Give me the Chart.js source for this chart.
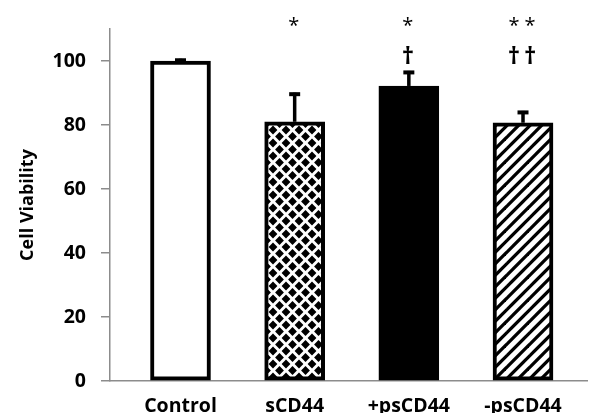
<!DOCTYPE html>
<html>
<head>
<meta charset="utf-8">
<script src="https://cdn.jsdelivr.net/npm/chart.js@4.4.1/dist/chart.umd.min.js"></script>
<style>
  html, body { margin: 0; padding: 0; background: #fff; }
  #c { display: block; }
</style>
</head>
<body>
<canvas id="c" width="589" height="413"></canvas>
<script>
// ---- data ----
const categories = ['Control', 'sCD44', '+psCD44', '-psCD44'];
const viability = [100, 81, 92.2, 80.7];
const errorUpper = [0.7, 9.1, 4.7, 3.7];
const starLabels = ['', '*', '*', '* *'];
const daggerLabels = ['', '', '\u2020', '\u2020\u2009\u2020'];
const yTicks = [0, 20, 40, 60, 80, 100];

// ---- patterns ----
function diamondPattern(ctx) {
  const s = 13;
  const c = document.createElement('canvas');
  c.width = s; c.height = s;
  const g = c.getContext('2d');
  g.fillStyle = '#fff'; g.fillRect(0, 0, s, s);
  g.fillStyle = '#000';
  const r = 4.4;
  const centers = [[s / 2, s / 2], [0, 0], [s, 0], [0, s], [s, s]];
  centers.forEach(([cx, cy]) => {
    g.beginPath();
    g.moveTo(cx, cy - r); g.lineTo(cx + r, cy); g.lineTo(cx, cy + r); g.lineTo(cx - r, cy);
    g.closePath(); g.fill();
  });
  return ctx.createPattern(c, 'repeat');
}
function hatchPattern(ctx) {
  const s = 11.5;
  const n = 23;
  const c = document.createElement('canvas');
  c.width = n; c.height = n;
  const g = c.getContext('2d');
  g.fillStyle = '#fff'; g.fillRect(0, 0, n, n);
  g.strokeStyle = '#000'; g.lineWidth = 3.3;
  for (let k = -2; k <= 6; k++) {
    const off = k * s;
    g.beginPath();
    g.moveTo(off - 30, n + 30); g.lineTo(off + n + 30, -30);
    g.stroke();
  }
  return ctx.createPattern(c, 'repeat');
}

const canvas = document.getElementById('c');
const ctx0 = canvas.getContext('2d');
const fills = ['#ffffff', diamondPattern(ctx0), '#000000', hatchPattern(ctx0)];

const gray = '#8c8c8c';
const fontFam = "'Open Sans', 'DejaVu Sans', sans-serif";

const errorBars = {
  id: 'errorBars',
  afterDatasetsDraw(chart) {
    const { ctx, scales: { x, y } } = chart;
    ctx.save();
    ctx.fillStyle = '#000';
    viability.forEach((v, i) => {
      const px = x.getPixelForValue(i);
      const yb = y.getPixelForValue(v);
      const yt = y.getPixelForValue(v + errorUpper[i]);
      ctx.fillRect(px - 1.75, yt, 3.5, yb - yt);
      ctx.fillRect(px - 5.5, yt - 0.5, 11, 4);
    });
    ctx.restore();
  }
};

const marks = {
  id: 'marks',
  afterDraw(chart) {
    const { ctx, scales: { x, y } } = chart;
    ctx.save();
    ctx.fillStyle = '#000';
    ctx.textAlign = 'center';
    ctx.textBaseline = 'middle';
    ctx.font = "20px " + fontFam;
    starLabels.forEach((t, i) => {
      if (t) ctx.fillText(t, x.getPixelForValue(i) - 1, y.getPixelForValue(110.8));
    });
    ctx.font = "bold 24px " + fontFam;
    daggerLabels.forEach((t, i) => {
      if (t) ctx.fillText(t, x.getPixelForValue(i) - 1, y.getPixelForValue(101.2));
    });
    ctx.restore();
  }
};

new Chart(canvas, {
  type: 'bar',
  data: {
    datasets: [{
      data: categories.map((c, i) => ({ x: i, y: viability[i] })),
      backgroundColor: fills,
      borderColor: '#000',
      borderWidth: 4,
      borderSkipped: false,
      barThickness: 60
    }]
  },
  options: {
    responsive: false,
    devicePixelRatio: 1,
    animation: false,
    layout: { padding: { top: 29, right: 2, left: 0, bottom: 0 } },
    plugins: { legend: { display: false }, tooltip: { enabled: false } },
    scales: {
      x: {
        type: 'linear',
        min: -0.6175,
        max: 3.5605,
        offset: false,
        grid: { display: false },
        border: { display: true, color: gray, width: 1.5 },
        afterBuildTicks: s => { s.ticks = categories.map((_, i) => ({ value: i })); },
        afterFit: s => { s.height = 32; },
        ticks: {
          autoSkip: false,
          maxRotation: 0,
          padding: 6,
          color: '#000',
          font: { family: fontFam, weight: 'bold', size: 19.5 },
          callback: v => categories[v]
        }
      },
      y: {
        min: 0,
        max: 110,
        afterBuildTicks: s => { s.ticks = yTicks.map(v => ({ value: v })); },
        afterFit: s => { s.width = 110; },
        grid: { drawOnChartArea: false, color: gray, lineWidth: 1.5, tickLength: 9 },
        border: { display: true, color: gray, width: 1.5 },
        ticks: {
          padding: 15,
          color: '#000',
          font: { family: fontFam, weight: 'bold', size: 19.5 }
        },
        title: {
          display: true,
          text: 'Cell Viability',
          color: '#000',
          padding: { top: 17, bottom: 0 },
          font: { family: fontFam, weight: 'bold', size: 18 }
        }
      }
    }
  },
  plugins: [errorBars, marks]
});
</script>
</body>
</html>
